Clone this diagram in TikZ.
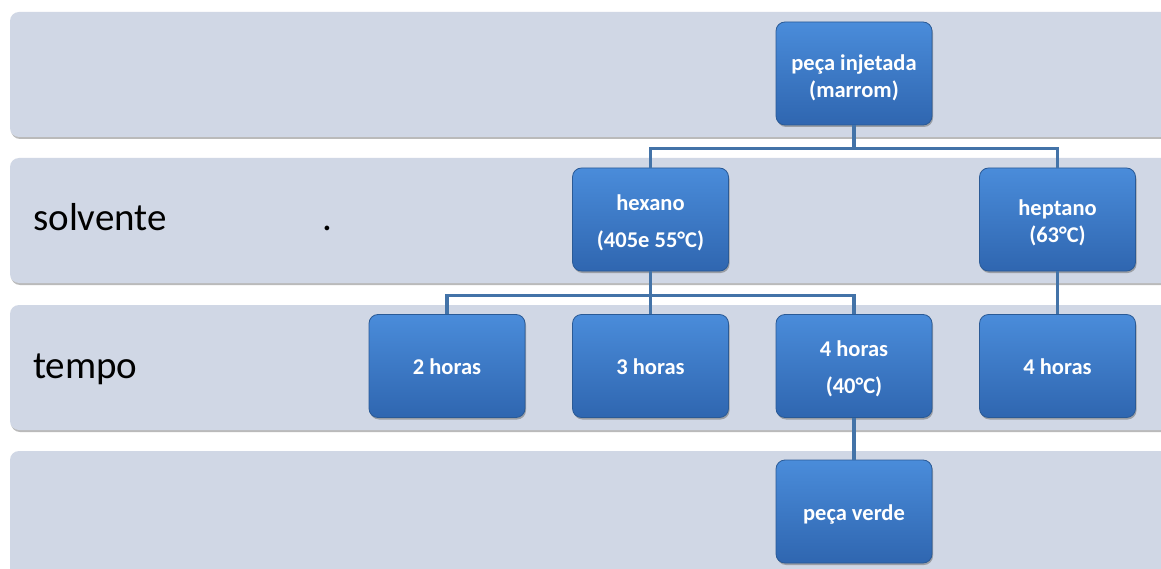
\documentclass[tikz,border=0pt]{standalone}
\usepackage{fontspec}
\setmainfont{Carlito}
\usetikzlibrary{shadows}
\definecolor{bandfill}{HTML}{D0D7E5}
\definecolor{boxtop}{HTML}{4A8CDA}
\definecolor{boxbot}{HTML}{2F66B0}
\definecolor{boxedge}{HTML}{2A5A96}
\definecolor{linkcol}{HTML}{4373A8}
% lower a line of text without changing the size that is reported for it
\newcommand{\lowertext}[2]{\raisebox{-#1}[\height][\depth]{#2}}
\tikzset{
  band/.style={fill=bandfill, rounded corners=9pt,
    drop shadow={shadow xshift=1pt, shadow yshift=-2pt, fill=black!45, opacity=0.6}},
  stepbox/.style={minimum width=156pt, minimum height=103pt, inner sep=0pt,
    rounded corners=9pt, draw=boxedge, line width=0.8pt,
    top color=boxtop, bottom color=boxbot,
    drop shadow={shadow xshift=1pt, shadow yshift=-2pt, fill=black!60, opacity=0.5},
    text=white, font=\fontsize{22.5}{27}\selectfont\bfseries, align=center},
  wide/.style={font=\fontsize{22.5}{37}\selectfont\bfseries},
  link/.style={draw=linkcol, line width=3.5pt},
  rowlabel/.style={anchor=base west, inner sep=0pt, font=\fontsize{39}{42}\selectfont}
}
\begin{document}
\begin{tikzpicture}[x=1pt,y=-1pt]
\useasboundingbox (0,0) rectangle (1161,569);
\fill[white] (0,0) rectangle (1161,569);
% horizontal bands
\begin{scope}
\clip (0,0) rectangle (1161,569);
\path[band] (10,12) rectangle (1190,137);
\path[band] (10,158) rectangle (1190,283);
\path[band] (10,305) rectangle (1190,430);
\path[band] (10,451) rectangle (1190,600);
\end{scope}
% row labels
\node[rowlabel] (lsolv) at (33,231) {solvente};
\node[rowlabel] (ldot) at (322,231) {.};
\node[rowlabel] (ltemp) at (33,378) {tempo};
% boxes
\node[stepbox] (top) at (854,73.5) {\lowertext{4pt}{peça injetada}\\\lowertext{4pt}{(marrom)}};
\node[stepbox, wide] (hex) at (650.5,219.5) {\lowertext{3pt}{hexano}\\\lowertext{3pt}{(405e 55°C)}};
\node[stepbox] (hep) at (1057.5,219.5) {\lowertext{3pt}{heptano}\\\lowertext{3pt}{(63°C)}};
\node[stepbox] (h2) at (447,366) {\lowertext{1pt}{2 horas}};
\node[stepbox] (h3) at (650.5,366) {\lowertext{1pt}{3 horas}};
\node[stepbox, wide] (h4) at (854,366) {\lowertext{3pt}{4 horas}\\\lowertext{3pt}{(40°C)}};
\node[stepbox] (h4b) at (1057.5,366) {\lowertext{1pt}{4 horas}};
\node[stepbox] (verde) at (854,511.5) {\lowertext{3pt}{peça verde}};
% connectors
\draw[link] (top.south) -- ++(0,23) coordinate (j1);
\draw[link] (hex.north) |- (j1) -| (hep.north);
\draw[link] (hex.south) -- ++(0,24) coordinate (j2);
\draw[link] (h2.north) |- (j2) -| (h4.north);
\draw[link] (h3.north) -- (j2);
\draw[link] (hep.south) -- (h4b.north);
\draw[link] (h4.south) -- (verde.north);
\end{tikzpicture}
\end{document}
